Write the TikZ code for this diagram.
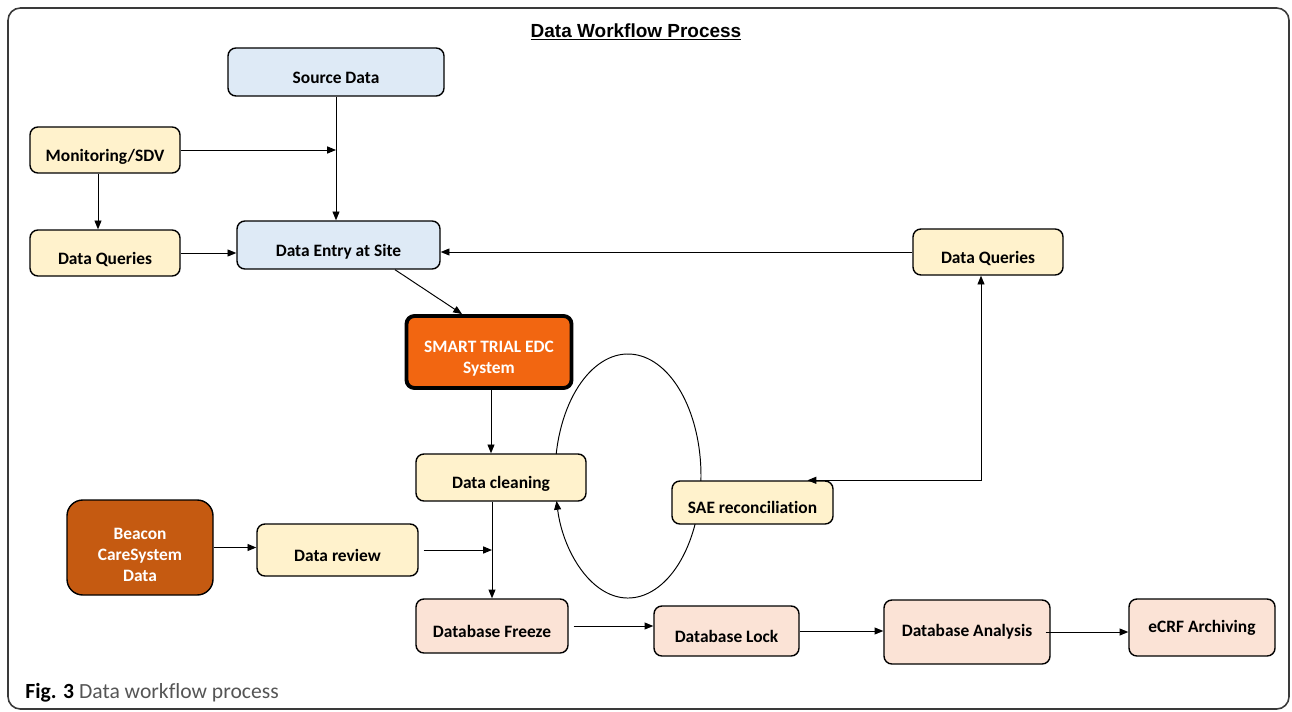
\documentclass[tikz,border=0pt]{standalone}
\usepackage{fontspec}
\setmainfont[Ligatures=CommonOff]{Carlito}
\newfontfamily\titlefont{Liberation Sans}
\usetikzlibrary{arrows.meta}
\definecolor{boxblue}{HTML}{DEEAF6}
\definecolor{boxyellow}{HTML}{FFF2CC}
\definecolor{boxpink}{HTML}{FBE3D6}
\definecolor{edcorange}{HTML}{F26611}
\definecolor{beaconbrown}{HTML}{C55A11}
\definecolor{framegray}{HTML}{3A3A3A}
\definecolor{captiongray}{HTML}{555555}

\begin{document}
\begin{tikzpicture}[>={Triangle[length=5pt,width=4pt]}, line width=0.55pt,
    box/.style={draw, rounded corners=4.5pt, line width=0.8pt, inner sep=0pt,
      font=\bfseries\fontsize{9.9}{12}\selectfont},
    low/.style={text height=13pt, text depth=0pt},
    bluebox/.style={box, low, fill=boxblue},
    yellowbox/.style={box, low, fill=boxyellow},
    pinkbox/.style={box, low, fill=boxpink},
    darkbox/.style={box, text=white, align=center}]
    \useasboundingbox (0,0) rectangle (25.84,14.22);
    \draw [framegray, line width=0.9pt, rounded corners=7pt] (0.16,0.04) rectangle (25.78,14.06);
    \node (t) at (12.72,13.58) {\titlefont\bfseries\fontsize{10.8}{13}\selectfont\underline{Data Workflow Process}};
    \node [anchor=base west, inner sep=0pt] (cap) at (0.5,0.26) {\fontsize{12.3}{14}\selectfont\textbf{Fig. 3} \textcolor{captiongray}{Data workflow process}};
    \node [bluebox, minimum width=4.32cm, minimum height=0.96cm] (a) at (6.72,12.78) {Source Data};
    \node [yellowbox, minimum width=3.00cm, minimum height=0.92cm] (b) at (2.10,11.22) {Monitoring/SDV};
    \node [yellowbox, minimum width=3.00cm, minimum height=0.92cm] (c) at (2.10,9.16) {Data Queries};
    \node [bluebox, minimum width=4.06cm, minimum height=0.96cm] (d) at (6.77,9.32) {Data Entry at Site};
    \node [yellowbox, minimum width=3.00cm, minimum height=0.92cm] (e) at (19.76,9.18) {Data Queries};
    \node [darkbox, fill=edcorange, line width=2.2pt, text height=26.4pt, text depth=2.3pt, minimum width=3.30cm, minimum height=1.44cm] (f) at (9.78,7.18) {SMART TRIAL EDC\\System};
    \node [yellowbox, minimum width=3.40cm, minimum height=0.94cm] (g) at (10.02,4.67) {Data cleaning};
    \node [yellowbox, minimum width=3.22cm, minimum height=0.86cm] (h) at (15.05,4.17) {SAE reconciliation};
    \node [darkbox, fill=beaconbrown, rounded corners=9pt, text height=38.4pt, text depth=0pt, minimum width=2.92cm, minimum height=1.90cm] (i) at (2.80,3.27) {Beacon\\CareSystem\\Data};
    \node [yellowbox, minimum width=3.22cm, minimum height=1.04cm] (j) at (6.75,3.22) {Data review};
    \node [pinkbox, minimum width=3.04cm, minimum height=1.08cm] (k) at (9.84,1.70) {Database Freeze};
    \node [pinkbox, minimum width=2.90cm, minimum height=1.00cm] (l) at (14.53,1.60) {Database Lock};
    \node [box, fill=boxpink, minimum width=3.32cm, minimum height=1.28cm] (m) at (19.34,1.58) {Database Analysis};
    \node [box, fill=boxpink, minimum width=2.92cm, minimum height=1.14cm] (n) at (24.04,1.67) {eCRF Archiving};
    \coordinate (o) at (12.56,4.70);
    \draw [->] (a) -- (a |- d.north);
    \draw [->] (b) -- (b -| a);
    \draw [->] ([xshift=-0.14cm]b.south) -- ([xshift=-0.14cm]c.north);
    \draw [->] (c.east) -- (c.east -| d.west);
    \draw [->] (e.west) -- (e.west -| d.east);
    \draw [->] ([xshift=1.13cm]d.south) -- ([xshift=-0.54cm]f.north);
    \draw [->] ([xshift=0.04cm]f.south) -- ([xshift=0.04cm]f.south |- g.north);
    \draw [->] (g.south -| k) -- (k);
    \draw [->] (i.east) -- (i.east -| j.west);
    \draw [->] ([xshift=0.1cm]j.east) -- (j.east -| k);
    \draw [->] ([xshift=0.1cm]k.east) -- (k.east -| l.west);
    \draw [->] (l.east) -- (l.east -| m.west);
    \draw [->] ([xshift=-0.1cm]m.east) -- (m.east -| n.west);
    \draw [<->] ([xshift=1.1cm]h.north) -| ([xshift=-0.14cm]e.south);
    \draw (o) ++(169.6:1.46 and 2.44) arc [start angle=169.6, end angle=-2.3, x radius=1.46, y radius=2.44];
    \draw [->] (o) ++(-23.2:1.46 and 2.44) arc [start angle=-23.2, end angle=-168.2, x radius=1.46, y radius=2.44];
\end{tikzpicture}
\end{document}
